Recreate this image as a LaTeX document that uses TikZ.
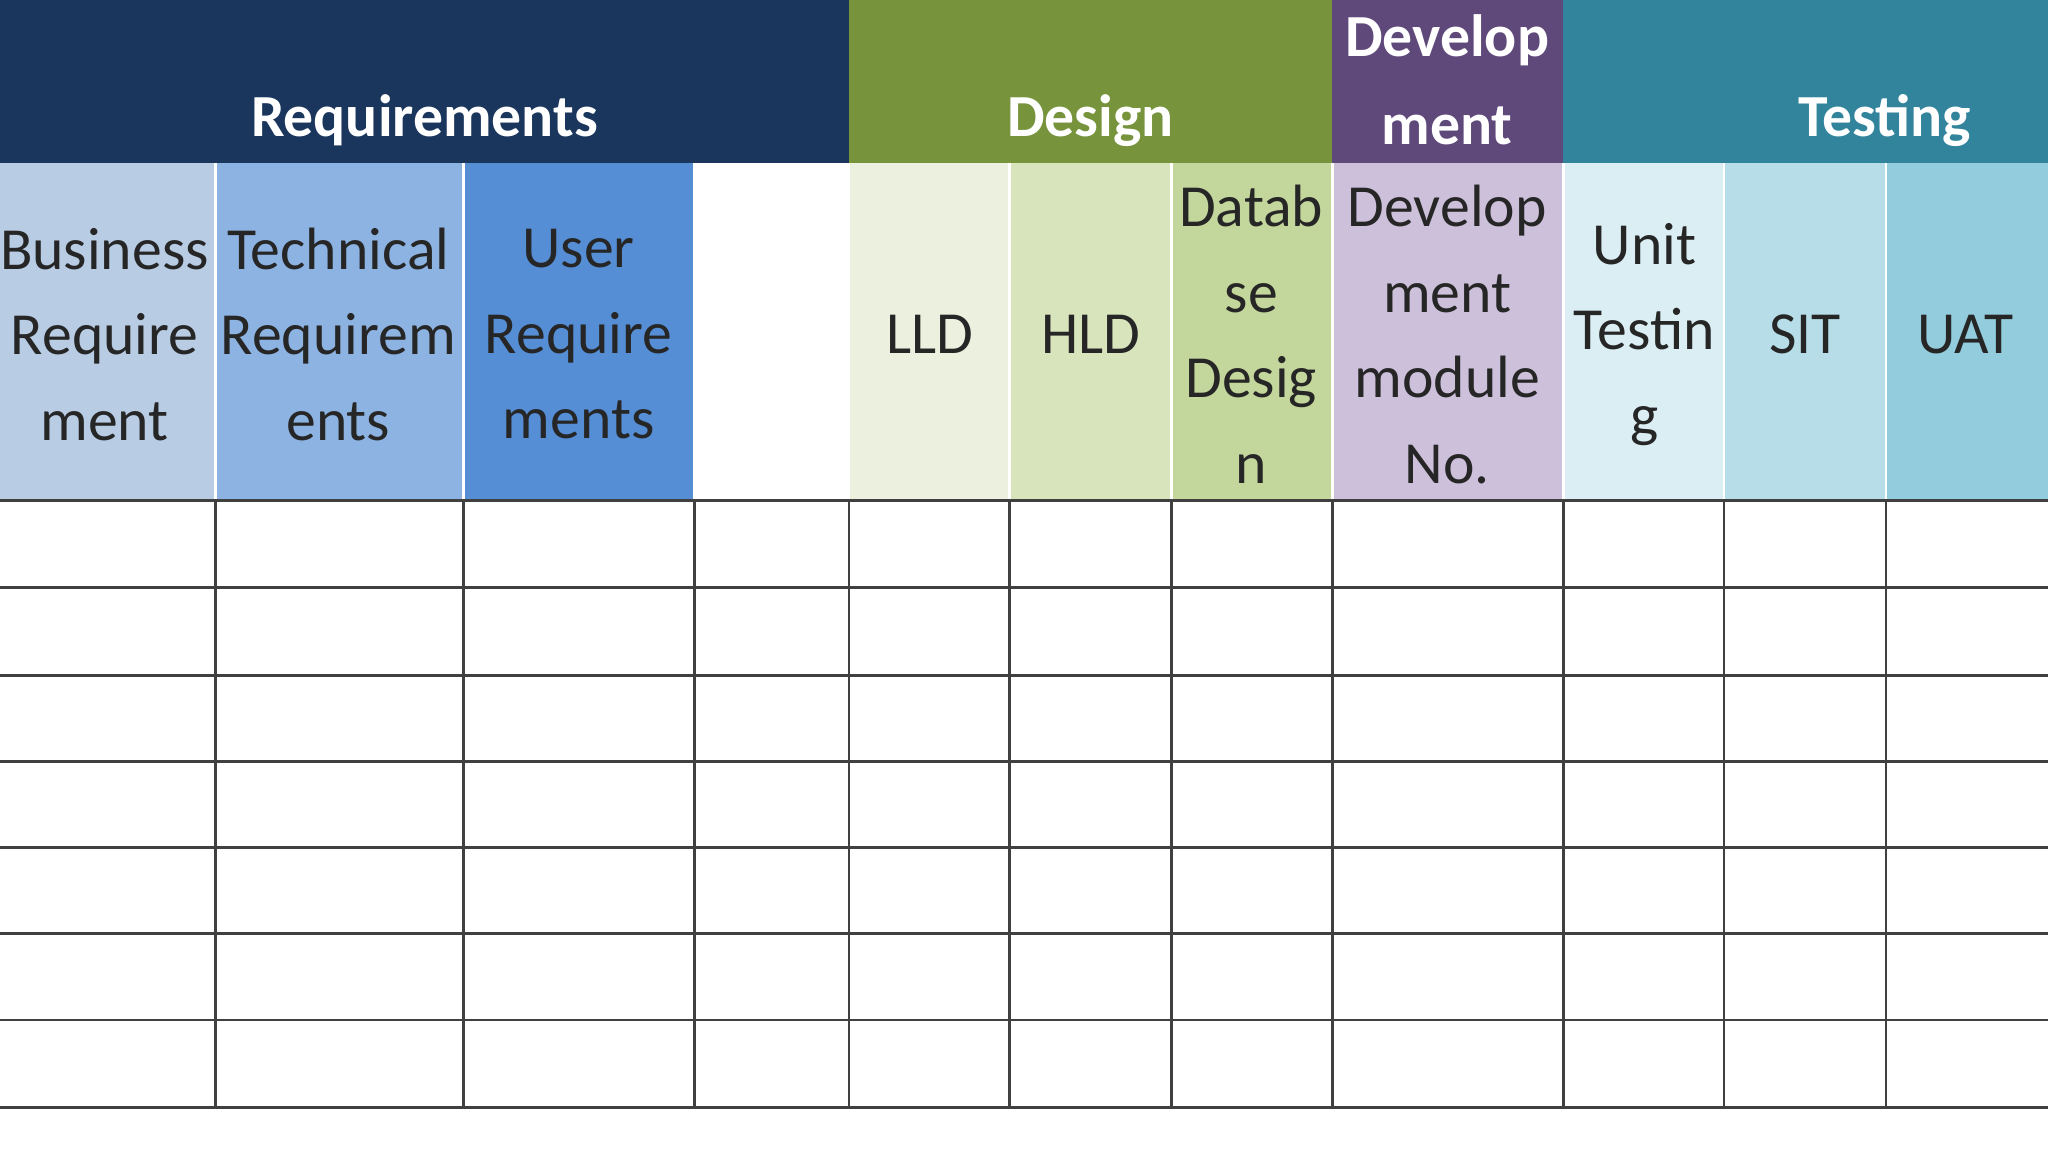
\documentclass[tikz,border=0pt]{standalone}
\usepackage{fontspec}
\setmainfont{Carlito}
\definecolor{creq}{HTML}{1B365D}
\definecolor{cdes}{HTML}{77933C}
\definecolor{cdev}{HTML}{5F497A}
\definecolor{ctst}{HTML}{31849B}
\definecolor{c1}{HTML}{B8CCE4}
\definecolor{c2}{HTML}{8DB3E2}
\definecolor{c3}{HTML}{558ED5}
\definecolor{c4}{HTML}{EBF1DE}
\definecolor{c5}{HTML}{D7E4BC}
\definecolor{c6}{HTML}{C3D69B}
\definecolor{c7}{HTML}{CCC0DA}
\definecolor{c8}{HTML}{DAEEF3}
\definecolor{c9}{HTML}{B7DEE8}
\definecolor{c10}{HTML}{93CDDD}
\begin{document}
\begin{tikzpicture}[x=0.01cm,y=-0.01cm,
  hdr/.style={font=\fontsize{13}{19}\selectfont\bfseries, text=white, align=center, inner sep=0},
  sub/.style={font=\fontsize{13}{18.6}\selectfont, text=black!85, align=center, inner sep=0},
  grid/.style={draw=black!75, line width=0.6pt}]
\useasboundingbox (0,0) rectangle (1568,882);
% header bands
\fill[creq] (0,0) rectangle (650,125);
\fill[cdes] (650,0) rectangle (1020,125);
\fill[cdev] (1020,0) rectangle (1197,125);
\fill[ctst] (1197,0) rectangle (1568,125);
% subheader cells
\fill[c1] (0,125) rectangle (165,383);
\fill[c2] (165,125) rectangle (355,383);
\fill[c3] (355,125) rectangle (532,383);
\fill[c4] (650,125) rectangle (773,383);
\fill[c5] (773,125) rectangle (897,383);
\fill[c6] (897,125) rectangle (1020,383);
\fill[c7] (1020,125) rectangle (1197,383);
\fill[c8] (1197,125) rectangle (1320,383);
\fill[c9] (1320,125) rectangle (1444,383);
\fill[c10] (1444,125) rectangle (1568,383);
\foreach \x in {165,355,532,650,773,897,1020,1197,1320,1444}
  \draw[white, line width=0.6pt] (\x,125) -- (\x,383);
% header text
\node[hdr] (hreq) at (325,92) {Requirements};
\node[hdr] (hdes) at (835,92) {Design};
\node[hdr] (hdev) at (1108,61) {Develop\\ment};
\node[hdr] (htst) at (1443,92) {Testing};
% sub text
\node[sub] (s1) at (80,256) {Business\\Require\\ment};
\node[sub] (s2) at (259,256) {Technical\\Requirem\\ents};
\node[sub] (s3) at (443,256) {User\\Require\\ments};
\node[sub] (s4) at (712,256) {LLD};
\node[sub] (s5) at (835,256) {HLD};
\node[sub] (s6) at (958,256) {Datab\\se\\Desig\\n};
\node[sub] (s7) at (1108,256) {Develop\\ment\\module\\No.};
\node[sub] (s8) at (1259,256) {Unit\\Testin\\g};
\node[sub] (s9) at (1382,256) {SIT};
\node[sub] (s10) at (1505,256) {UAT};
% grid
\foreach \y in {383,450,517,583,649,715,781,848}
  \draw[grid] (0,\y) -- (1568,\y);
\foreach \x in {165,355,532,650,773,897,1020,1197,1320,1444}
  \draw[grid] (\x,383) -- (\x,848);
\end{tikzpicture}
\end{document}
